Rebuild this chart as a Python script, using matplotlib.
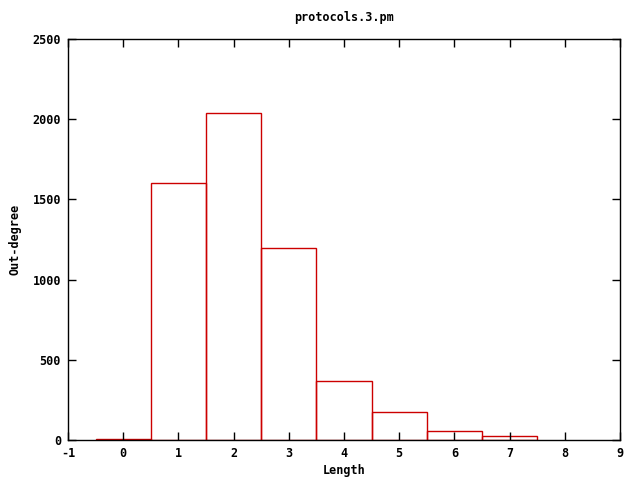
import matplotlib
matplotlib.use('Agg')
import matplotlib.pyplot as plt

lengths = [0, 1, 2, 3, 4, 5, 6, 7]
outdeg = [6, 1600, 2040, 1200, 368, 173, 56, 25]

plt.rcParams['font.family'] = 'DejaVu Sans Mono'
plt.rcParams['font.weight'] = 'bold'
plt.rcParams['font.size'] = 8.5
plt.rcParams['axes.unicode_minus'] = False

fig = plt.figure(figsize=(6.4, 4.8), dpi=100)
ax = fig.add_axes([68 / 640, 40 / 480, 552 / 640, 401 / 480])
ax.bar(lengths, outdeg, width=1.0, fill=False, edgecolor='#cc0000', linewidth=1.0)
ax.set_xlim(-1, 9)
ax.set_ylim(0, 2500)
ax.set_xticks(range(-1, 10))
ax.set_yticks(range(0, 2501, 500))
ax.tick_params(direction='in', top=True, right=True, length=6, width=1, pad=5)
for s in ax.spines.values():
    s.set_linewidth(1)
ax.set_title('protocols.3.pm', fontsize=8.5, fontweight='bold', pad=13)
ax.set_xlabel('Length', fontweight='bold', labelpad=3)
ax.set_ylabel('Out-degree', fontweight='bold', labelpad=8)
fig.savefig('out.png', dpi=100)
